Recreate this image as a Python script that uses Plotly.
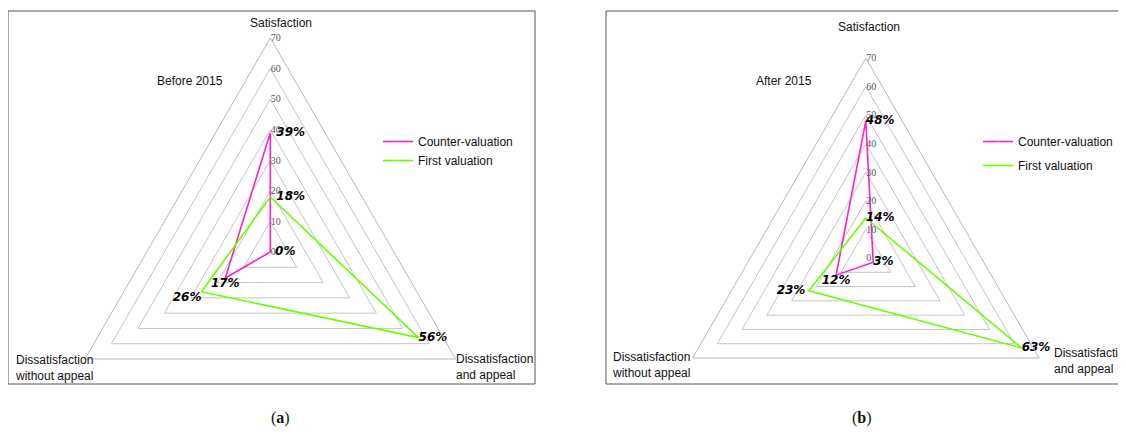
import plotly.graph_objects as go

# ---------------- data ----------------
categories = ["Satisfaction", "Dissatisfaction and appeal", "Dissatisfaction without appeal"]
series_names = ["Counter-valuation", "First valuation"]
before_counter = [39, 0, 17]
before_first = [18, 56, 26]
after_counter = [48, 3, 12]
after_first = [14, 63, 23]
radial_ticks = [0, 10, 20, 30, 40, 50, 60, 70]
panel_titles = ["Before 2015", "After 2015"]
panel_letters = ["a", "b"]

# ---------------- style ----------------
PINK = "#ff1fcb"
GREEN = "#66ff00"
W, H = 1126, 465
OFF = 8  # page body margin
SANS = "Liberation Sans"
LABEL_FONT = dict(family="DejaVu Sans", size=12, color="black")


def fx(x):
    return (x - OFF) / W


def fy(y):
    return (H - (y - OFF)) / H


def closed(vals):
    return list(vals) + [vals[0]]


def fmt(v):
    return "<b><i>%d%%</i></b>" % v


fig = go.Figure()

panels = [
    dict(sub="polar", over="polar3", legend="legend", counter=before_counter, first=before_first,
         cpos=["middle right", "middle right", "bottom center"], cgap=[8, 6, 0],
         fpos=["middle right", "middle right", "bottom left"], fgap=[8, 0, 0]),
    dict(sub="polar2", over="polar4", legend="legend2", counter=after_counter, first=after_first,
         cpos=["middle right", "middle right", "bottom center"], cgap=[0, 0, 0],
         fpos=["middle right", "middle right", "middle left"], fgap=[0, 0, 4]),
]

for p in panels:
    for name, vals, pos, gap, col, grp in [
        (series_names[0], p["counter"], p["cpos"], p["cgap"], PINK, "c"),
        (series_names[1], p["first"], p["fpos"], p["fgap"], GREEN, "f"),
    ]:
        fig.add_trace(go.Scatterpolar(
            r=closed(vals),
            theta=closed(categories),
            mode="lines+markers+text",
            text=[fmt(v) for v in vals] + [""],
            textposition=pos + ["middle right"],
            textfont=LABEL_FONT,
            line=dict(color=col, width=1.6),
            marker=dict(size=gap + [0], color=col, opacity=0),
            name=name,
            subplot=p["sub"],
            legend=p["legend"],
            legendgroup=p["sub"] + grp,
            cliponaxis=False,
            hoverinfo="skip",
        ))
        # labels of points sitting exactly on the pole: plotly hides them in a
        # subplot with cliponaxis=False, so draw them on an identical overlay subplot
        if any(v == 0 for v in vals):
            fig.add_trace(go.Scatterpolar(
                r=list(vals),
                theta=list(categories),
                mode="markers+text",
                text=[fmt(v) if v == 0 else "" for v in vals],
                textposition=pos,
                textfont=LABEL_FONT,
                marker=dict(size=gap, color=col, opacity=0),
                subplot=p["over"],
                showlegend=False,
                cliponaxis=True,
                hoverinfo="skip",
            ))


def polar_layout(cx, cy, R, overlay=False):
    return dict(
        domain=dict(x=[fx(cx - R), fx(cx + R)], y=[fy(cy + R), fy(cy - R)]),
        gridshape="linear",
        bgcolor="rgba(0,0,0,0)",
        angularaxis=dict(
            rotation=90, direction="clockwise", showgrid=False,
            showticklabels=False, ticks="", showline=not overlay,
            linecolor="#b8b8b8", linewidth=1,
            categoryorder="array", categoryarray=categories,
        ),
        radialaxis=dict(
            range=[0, 70], tickvals=radial_ticks, angle=90, tickangle=90,
            showline=False, ticks="", gridcolor="#c4c4c4", gridwidth=1,
            showgrid=not overlay, showticklabels=not overlay,
            tickfont=dict(family="Liberation Serif", size=10, color="#555555"),
        ),
    )


ann = []


def text(x, y, s, xanchor="center", size=12, family=SANS):
    ann.append(dict(x=fx(x), y=fy(y), xref="paper", yref="paper", text=s,
                    showarrow=False, xanchor=xanchor, yanchor="middle", align="left",
                    font=dict(family=family, size=size, color="#111111")))


# panel a
text(281, 23, categories[0])
text(190, 81, panel_titles[0])
text(13, 368, "Dissatisfaction<br>without appeal", xanchor="left")
text(454, 367, "Dissatisfaction<br>and appeal", xanchor="left")
# panel b
text(869, 27, categories[0])
text(784, 81, panel_titles[1])
text(610, 365, "Dissatisfaction<br>without appeal", xanchor="left")
text(1052, 361, "Dissatisfaction<br>and appeal", xanchor="left")
# sub-figure letters
text(280, 418, "(<b>%s</b>)" % panel_letters[0], size=16, family="Liberation Serif")
text(862, 418, "(<b>%s</b>)" % panel_letters[1], size=16, family="Liberation Serif")

shapes = [
    dict(type="rect", xref="paper", yref="paper", x0=fx(8), x1=fx(535), y0=fy(384), y1=fy(11),
         line=dict(color="#555555", width=1)),
    dict(type="rect", xref="paper", yref="paper", x0=fx(606), x1=fx(1140), y0=fy(384), y1=fy(11),
         line=dict(color="#555555", width=1)),
]

legend_common = dict(xanchor="left", yanchor="top", bgcolor="rgba(0,0,0,0)",
                     font=dict(family=SANS, size=12, color="#111111"),
                     traceorder="grouped", borderwidth=0)

geom_a = (270.3, 252, 214)
geom_b = (865.8, 258, 200)

fig.update_layout(
    width=W, height=H,
    margin=dict(l=0, r=0, t=0, b=0),
    paper_bgcolor="white",
    plot_bgcolor="white",
    showlegend=True,
    polar=polar_layout(*geom_a),
    polar2=polar_layout(*geom_b),
    polar3=polar_layout(*geom_a, overlay=True),
    polar4=polar_layout(*geom_b, overlay=True),
    legend=dict(x=fx(378), y=fy(127), tracegroupgap=0, **legend_common),
    legend2=dict(x=fx(978), y=fy(127), tracegroupgap=5, **legend_common),
    annotations=ann,
    shapes=shapes,
)

fig.write_html("out.html")
